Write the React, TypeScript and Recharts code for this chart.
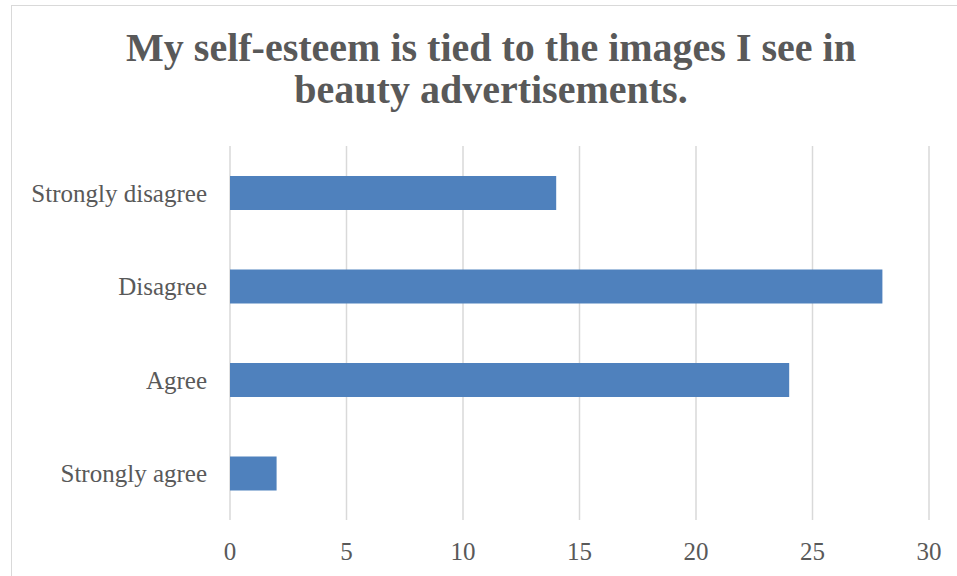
import { BarChart, Bar, XAxis, YAxis, CartesianGrid } from 'recharts';

const categories = ['Strongly disagree', 'Disagree', 'Agree', 'Strongly agree'];
const counts = [14, 28, 24, 2];
const xTicks = [0, 5, 10, 15, 20, 25, 30];

const data = categories.map((name, i) => ({ name, value: counts[i] }));

const FONT = '"Liberation Serif", serif';
const TEXT = '#595959';

export default function App() {
  return (
    <div style={{ position: 'absolute', left: 0, top: 0, width: 957, height: 576, background: '#fff', overflow: 'hidden', fontFamily: FONT }}>
      <div style={{ position: 'absolute', left: 11, top: 5, width: 1000, height: 1000, border: '1.5px solid #d9d9d9', boxSizing: 'border-box' }} />
      <div
        style={{
          position: 'absolute',
          left: 0,
          width: 982,
          top: 27,
          textAlign: 'center',
          fontSize: 40,
          fontWeight: 'bold',
          lineHeight: '42px',
          color: TEXT,
        }}
      >
        My self-esteem is tied to the images I see in
        <br />
        beauty advertisements.
      </div>
      <BarChart
        width={957}
        height={576}
        data={data}
        layout="vertical"
        margin={{ top: 146, right: 28, bottom: 0, left: 0 }}
        barCategoryGap="32%"
        style={{ position: 'absolute', left: 0, top: 0 }}
      >
        <CartesianGrid horizontal={false} stroke="#d9d9d9" strokeWidth={1.5} />
        <XAxis
          type="number"
          domain={[0, 30]}
          ticks={xTicks}
          axisLine={false}
          tickLine={false}
          tickMargin={16}
          height={56}
          tick={{ fill: TEXT, fontSize: 25, fontFamily: FONT }}
        />
        <YAxis
          type="category"
          dataKey="name"
          width={230}
          axisLine={false}
          tickLine={false}
          tickMargin={17}
          tick={{ fill: TEXT, fontSize: 25, fontFamily: FONT }}
        />
        <Bar dataKey="value" fill="#4f81bd" isAnimationActive={false} />
      </BarChart>
    </div>
  );
}
